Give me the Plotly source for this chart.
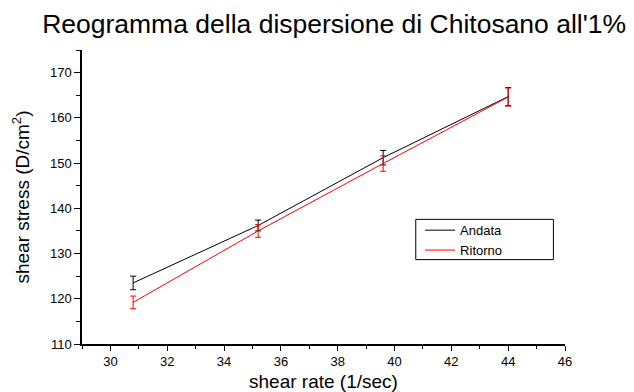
import plotly.graph_objects as go

shear_rate = [30.8, 35.2, 39.6, 44.0]
andata = [123.5, 136.2, 151.2, 164.7]
andata_err = [1.5, 1.2, 1.6, 2.0]
ritorno = [119.2, 135.0, 149.9, 164.6]
ritorno_err = [1.4, 1.4, 1.7, 2.0]

FONT = "Arial, Liberation Sans, sans-serif"

fig = go.Figure()
fig.add_trace(go.Scatter(
    x=shear_rate, y=andata, name="Andata", mode="lines",
    line=dict(color="black", width=1),
    error_y=dict(type="data", array=andata_err, color="black", thickness=1, width=3),
))
fig.add_trace(go.Scatter(
    x=shear_rate, y=ritorno, name="Ritorno", mode="lines",
    line=dict(color="red", width=1),
    error_y=dict(type="data", array=ritorno_err, color="red", thickness=1, width=3),
))

# legend frame
fig.add_shape(type="rect", xref="paper", yref="paper",
              x0=0.691, x1=0.976, y0=0.287, y1=0.424,
              line=dict(color="black", width=1), fillcolor="white", layer="below")

fig.update_layout(
    width=634, height=392,
    margin=dict(l=82, r=69, t=50, b=48, autoexpand=False),
    paper_bgcolor="white", plot_bgcolor="white",
    font=dict(family=FONT, color="black", size=13),
    title=dict(text="Reogramma della dispersione di Chitosano all'1%",
               x=0.527, xanchor="center", y=0.94, yanchor="middle",
               font=dict(size=26.5, family=FONT, color="black")),
    showlegend=True,
    legend=dict(x=0.70, y=0.438, xanchor="left", yanchor="top",
                borderwidth=0, bgcolor="rgba(0,0,0,0)",
                font=dict(size=13, family=FONT), tracegroupgap=0,
                itemwidth=30),
)
fig.update_xaxes(
    range=[29, 46], tickmode="linear", tick0=30, dtick=2, automargin=False,
    showline=True, linecolor="black", linewidth=1.5, mirror=False,
    ticks="outside", ticklen=5, tickwidth=1, tickcolor="black",
    minor=dict(ticks="outside", ticklen=3, dtick=1, tick0=29, tickcolor="black", showgrid=False),
    showgrid=False, zeroline=False,
    title=dict(text="shear rate (1/sec)", font=dict(size=19, family=FONT), standoff=6),
    tickfont=dict(size=13),
)
fig.update_yaxes(
    range=[110, 175], tickmode="linear", tick0=110, dtick=10, automargin=False,
    showline=True, linecolor="black", linewidth=1.5, mirror=False,
    ticks="outside", ticklen=6, tickwidth=1, tickcolor="black",
    minor=dict(ticks="outside", ticklen=4, dtick=5, tick0=110, tickcolor="black", showgrid=False),
    showgrid=False, zeroline=False,
    title=dict(text="shear stress (D/cm<sup>2</sup>)", font=dict(size=19, family=FONT), standoff=15),
    tickfont=dict(size=13),
)

fig.write_html("out.html")
